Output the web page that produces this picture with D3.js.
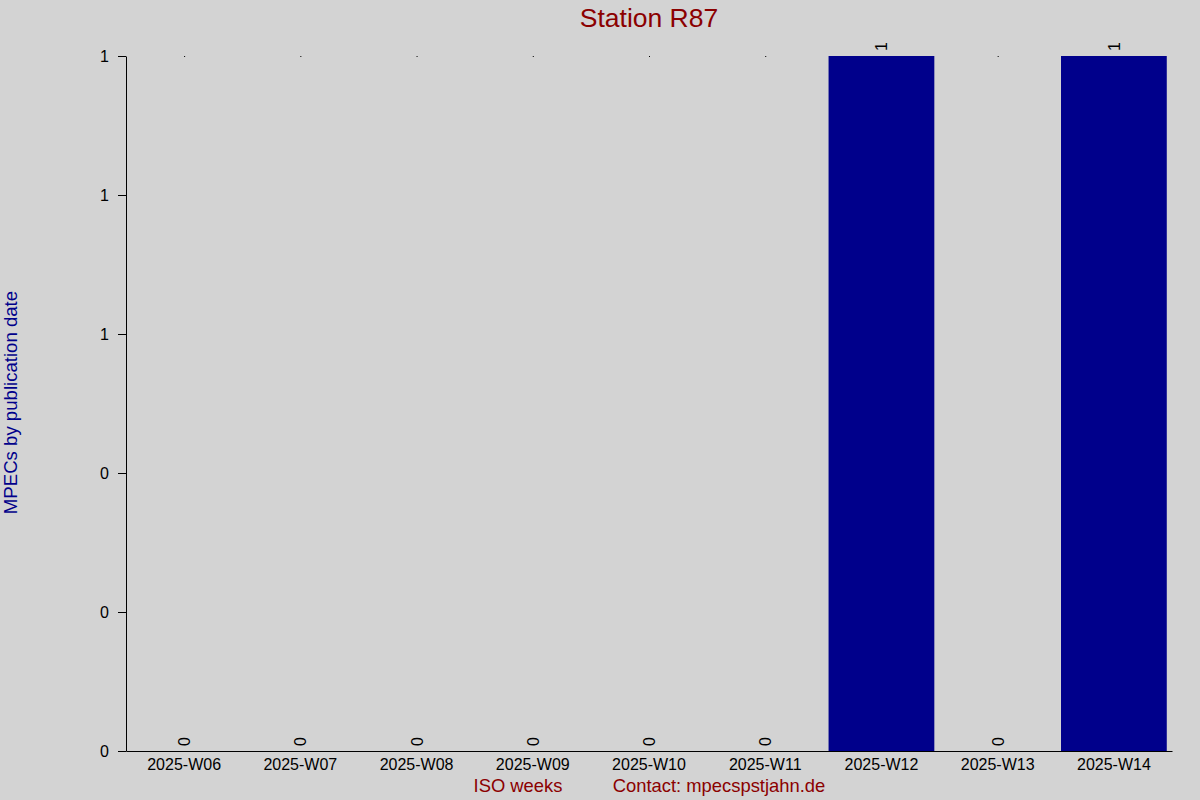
<!DOCTYPE html>
<html>
<head>
<meta charset="utf-8">
<script src="https://cdn.jsdelivr.net/npm/d3@7"></script>
<style>
  body { margin: 0; background: #d3d3d3; }
  text { font-family: "Liberation Sans", Arial, sans-serif; }
</style>
</head>
<body>
<div id="chart"></div>
<script>
const weeks = ["2025-W06", "2025-W07", "2025-W08", "2025-W09", "2025-W10",
               "2025-W11", "2025-W12", "2025-W13", "2025-W14"];
const counts = [0, 0, 0, 0, 0, 0, 1, 0, 1];
const yTicks = [0, 0.2, 0.4, 0.6, 0.8, 1];

const margin = { top: 56, right: 28, bottom: 49, left: 126 },
      width = 1200 - margin.left - margin.right,
      height = 800 - margin.top - margin.bottom;

const svg = d3.select("#chart")
              .append("svg")
              .attr("width", 1200)
              .attr("height", 800)
              .style("background", "#d3d3d3");

const g = svg.append("g")
             .attr("transform", `translate(${margin.left},${margin.top})`);

const x = d3.scaleBand()
            .domain(weeks)
            .range([0, width])
            .paddingInner(0.09)
            .paddingOuter(0.045);

const y = d3.scaleLinear()
            .domain([0, 1])
            .range([height, 0]);

const data = weeks.map((w, i) => ({ week: w, value: counts[i] }));

// bars
g.selectAll(".bar")
 .data(data.filter(d => d.value > 0))
 .enter()
 .append("rect")
 .attr("class", "bar")
 .attr("x", d => x(d.week))
 .attr("y", d => y(d.value))
 .attr("width", x.bandwidth())
 .attr("height", d => height - y(d.value))
 .attr("fill", "#00008b");

// tiny marks at top of empty columns
g.selectAll(".dot")
 .data(data.filter(d => d.value === 0))
 .enter()
 .append("rect")
 .attr("x", d => x(d.week) + x.bandwidth() / 2)
 .attr("y", y(1))
 .attr("width", 1)
 .attr("height", 1)
 .attr("fill", "#000");

// value labels, rotated
g.selectAll(".val")
 .data(data)
 .enter()
 .append("text")
 .attr("transform", d => `translate(${x(d.week) + x.bandwidth() / 2 + 6},${y(d.value) - 5}) rotate(-90)`)
 .attr("text-anchor", "start")
 .style("font-size", "16px")
 .style("fill", "#000")
 .text(d => d.value);

// y axis
const yAxis = g.append("g")
               .call(d3.axisLeft(y).tickValues(yTicks).tickFormat(d3.format(".0f")).tickSize(8).tickSizeOuter(0));
yAxis.select(".domain").attr("stroke", "#000");
yAxis.selectAll("text").style("font-size", "16px").attr("dx", "-6").attr("fill", "#000");

// x axis
const xAxis = g.append("g")
               .attr("transform", `translate(0,${height})`)
               .call(d3.axisBottom(x).tickSize(0).tickSizeOuter(0));
xAxis.select(".domain").attr("stroke", "#000");
xAxis.selectAll("text").style("font-size", "16px").attr("dy", "1.0em").attr("fill", "#000");

// title
svg.append("text")
   .attr("x", margin.left + width / 2)
   .attr("y", 27)
   .attr("text-anchor", "middle")
   .style("font-size", "26.5px")
   .style("fill", "#8b0000")
   .text("Station R87");

// y label
svg.append("text")
   .attr("transform", `translate(17,${margin.top + height / 2 - 1}) rotate(-90)`)
   .attr("text-anchor", "middle")
   .style("font-size", "18.6px")
   .style("fill", "#00008b")
   .text("MPECs by publication date");

// footer
svg.append("text")
   .attr("x", 518)
   .attr("y", 792)
   .attr("text-anchor", "middle")
   .style("font-size", "18.4px")
   .style("fill", "#8b0000")
   .text("ISO weeks");

svg.append("text")
   .attr("x", 719)
   .attr("y", 792)
   .attr("text-anchor", "middle")
   .style("font-size", "18.4px")
   .style("fill", "#8b0000")
   .text("Contact: mpecspstjahn.de");
</script>
</body>
</html>
